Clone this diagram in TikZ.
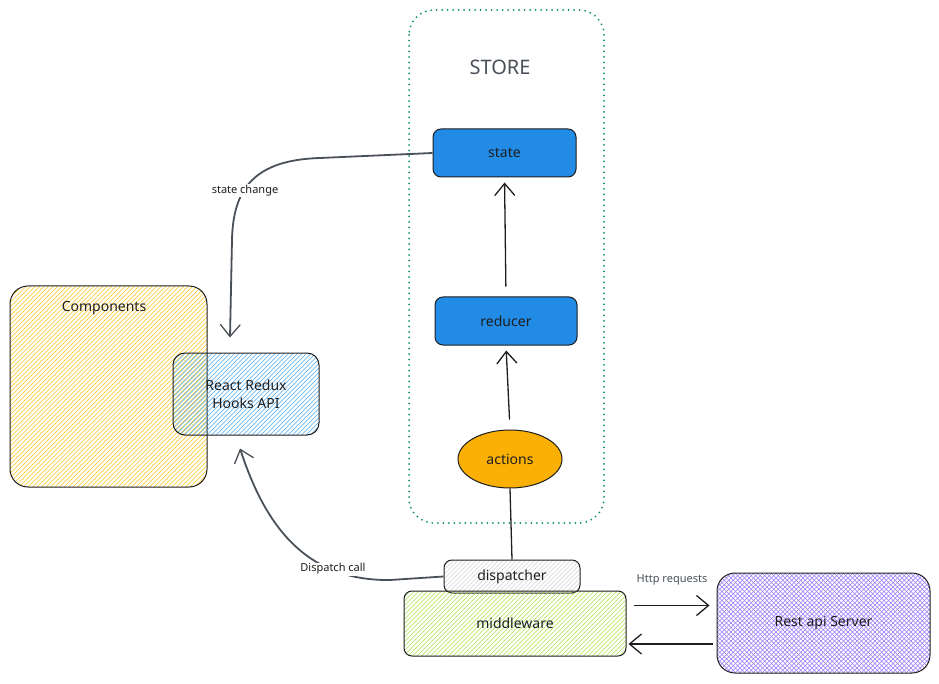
\documentclass[tikz,border=0pt]{standalone}
\usepackage{fontspec}
\setmainfont{Noto Sans}
\usetikzlibrary{arrows.meta,shapes.geometric}

\definecolor{ink}{HTML}{1E1E1E}
\definecolor{slate}{HTML}{495057}
\definecolor{storegreen}{HTML}{099268}
\definecolor{exblue}{HTML}{228BE6}
\definecolor{exorange}{HTML}{FAB005}
\definecolor{hatchyellow}{HTML}{FCC419}
\definecolor{hatchblue}{HTML}{4DABF7}
\definecolor{hatchgreen}{HTML}{A9E34B}
\definecolor{hatchgray}{HTML}{CED4DA}
\definecolor{hatchviolet}{HTML}{9775FA}

\begin{document}
\begin{tikzpicture}[x=1pt,y=-1pt]

\tikzset{box/.style = {draw=ink, line width=1pt, rounded corners=8pt, font=\fontsize{14}{16}\selectfont, text=ink}}
\tikzset{solidbox/.style = {box, fill=exblue}}
\tikzset{hatched/.style = {box, path picture={
  \foreach \k in {-250,-245.5,...,250}
    \draw[#1, line width=0.6pt] ([xshift=\k pt-250pt, yshift=-250pt]path picture bounding box.center) -- ++(500,-500);}}}
\tikzset{crossed/.style = {box, path picture={
  \foreach \k in {-250,-245.5,...,250} {
    \draw[#1, line width=0.6pt] ([xshift=\k pt-250pt, yshift=-250pt]path picture bounding box.center) -- ++(500,-500);
    \draw[#1, line width=0.6pt] ([xshift=\k pt-250pt, yshift=250pt]path picture bounding box.center) -- ++(500,500);}}}}
\tikzset{edge/.style = {draw=ink, line width=1.3pt, -{Straight Barb[length=12pt,width=20pt,line width=1.3pt]}}}
\tikzset{softedge/.style = {edge, draw=slate, line width=1.8pt}}
\tikzset{tag/.style = {fill=white, inner sep=1pt, font=\fontsize{11}{13}\selectfont, text=ink}}

\useasboundingbox (0,0) rectangle (939,684);

% store frame
\draw[storegreen, line width=2pt, line cap=round, dash pattern=on 0pt off 5.5pt, rounded corners=25pt]
  (409,10) rectangle (604,523);
\node[font=\fontsize{20}{24}\selectfont, text=slate] (storelbl) at (500,67) {STORE};

% vertices
\node[solidbox, minimum width=143pt, minimum height=48pt] (state) at (504.5,153) {state};
\node[solidbox, minimum width=142pt, minimum height=48pt] (reducer) at (506,321) {reducer};
\node[box, ellipse, fill=exorange, minimum width=104pt, minimum height=58pt] (actions) at (510,459) {actions};
\node[hatched=hatchgray, minimum width=136pt, minimum height=33pt] (dispatcher) at (512,576.5) {dispatcher};
\node[hatched=hatchgreen, minimum width=222pt, minimum height=65pt] (middleware) at (515,623.5) {middleware};
\node[crossed=hatchviolet, rounded corners=18pt, minimum width=213pt, minimum height=100pt] (server) at (823.5,623) {Rest api Server};
\node[hatched=hatchyellow, rounded corners=18pt, minimum width=197pt, minimum height=201pt] (components) at (108.5,386.5) {};
\node[box, draw=none] (complbl) at (104,308) {Components};
\node[hatched=hatchblue, rounded corners=12pt, minimum width=146pt, minimum height=82pt, align=center,
  font=\fontsize{14}{18}\selectfont] (hooks) at (246,394) {React Redux\\ Hooks API};

%edges
\draw[edge, shorten <=10pt, shorten >=5pt] (actions.north) -- (reducer.south);
\draw[edge, shorten <=10pt, shorten >=5pt] (reducer.north) -- (state.south);
\draw[ink, line width=1.3pt] (dispatcher.north) -- (actions.south);
\draw[edge, shorten <=7pt, shorten >=7pt] ([yshift=18pt]middleware.east) -- ([yshift=18pt]middleware.east -| server.west);
\draw[edge, shorten <=4pt, shorten >=2pt] ([yshift=-21pt]server.west) -- ([yshift=-21pt]server.west -| middleware.east);
\node[font=\fontsize{11}{13}\selectfont, text=slate] (httplbl) at (672,580) {Http requests};

\draw[softedge] (state.west) -- (320,158) .. controls (255,160) and (233,188) .. (232,240)
  -- ([xshift=-16pt,yshift=15pt]hooks.north);
\node[tag] (chglbl) at (245,191) {state change};

\draw[softedge] (dispatcher.west) -- (390,580) .. controls (305,581) and (265,525) .. ([xshift=-6pt,yshift=-13pt]hooks.south);
\node[tag] (dsplbl) at (333,569) {Dispatch call};

\end{tikzpicture}
\end{document}
